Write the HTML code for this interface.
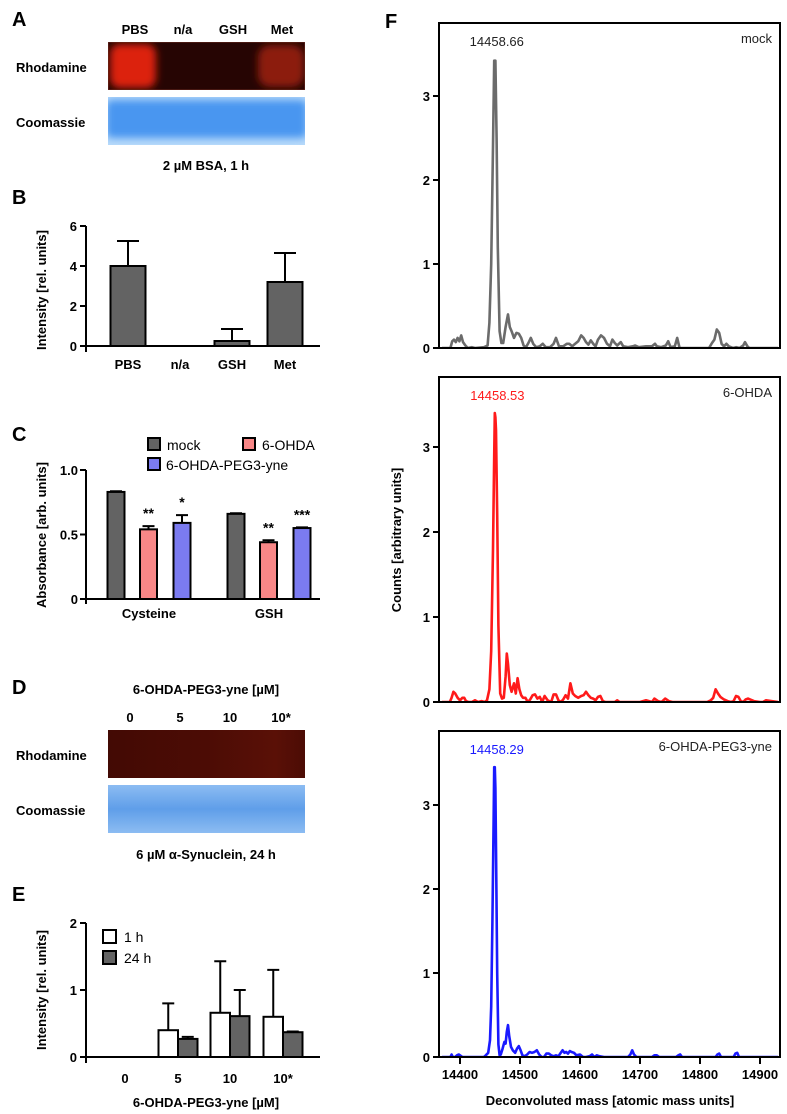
<!DOCTYPE html>
<html><head><meta charset="utf-8"><style>
html,body{margin:0;padding:0;background:#fff;width:787px;height:1114px;overflow:hidden}
svg{display:block;font-family:"Liberation Sans",Arial,sans-serif}
.b{font-weight:bold}
</style></head><body>
<svg id="fig" width="787" height="1114" viewBox="0 0 787 1114">
<defs>
<radialGradient id="rPBS" cx="0.5" cy="0.5" r="0.55"><stop offset="0" stop-color="#ee2a10"/><stop offset="0.6" stop-color="#d01e0c"/><stop offset="1" stop-color="#260503"/></radialGradient>
<radialGradient id="rMet" cx="0.5" cy="0.5" r="0.55"><stop offset="0" stop-color="#a8200e"/><stop offset="0.6" stop-color="#8a180a"/><stop offset="1" stop-color="#260503"/></radialGradient>
<filter id="blur" x="-20%" y="-20%" width="140%" height="140%"><feGaussianBlur stdDeviation="4"/></filter>
<linearGradient id="dC" x1="0" y1="0" x2="0" y2="1"><stop offset="0" stop-color="#8cbcf2"/><stop offset="0.5" stop-color="#5f9ee9"/><stop offset="1" stop-color="#8cbcf2"/></linearGradient>
<linearGradient id="dR" x1="0" y1="0" x2="1" y2="0"><stop offset="0" stop-color="#430a04"/><stop offset="0.5" stop-color="#4c0c05"/><stop offset="0.85" stop-color="#5a1006"/><stop offset="1" stop-color="#4c0c05"/></linearGradient>
<clipPath id="gelAclip"><rect x="108" y="42" width="197" height="48"/></clipPath>
<clipPath id="gelCclip"><rect x="108" y="97" width="197" height="48"/></clipPath>
</defs>

<!-- Panel A -->
<g>
<text class="b" x="12" y="26" font-size="20">A</text>
<g font-size="13" class="b" text-anchor="middle">
<text class="b" x="135" y="34">PBS</text>
<text class="b" x="183" y="34">n/a</text>
<text class="b" x="233" y="34">GSH</text>
<text class="b" x="282" y="34">Met</text>
</g>
<text class="b" x="16" y="72" font-size="13">Rhodamine</text>
<text class="b" x="16" y="127" font-size="13">Coomassie</text>
<g clip-path="url(#gelAclip)">
<rect x="108" y="42" width="197" height="48" fill="#260503"/>
<rect x="110" y="44" width="46" height="44" rx="10" fill="#dc240e" filter="url(#blur)"/>
<rect x="258" y="45" width="46" height="42" rx="12" fill="#8c1a0a" filter="url(#blur)"/>
<rect x="108" y="42" width="197" height="48" fill="none" stroke="#6a2a20" stroke-width="1"/>
</g>
<g clip-path="url(#gelCclip)">
<rect x="108" y="97" width="197" height="48" fill="#b8dafa"/>
<rect x="106" y="100" width="201" height="38" rx="6" fill="#4896f0" filter="url(#blur)"/>
</g>
<text class="b" x="206" y="170" font-size="13" text-anchor="middle">2 µM BSA, 1 h</text>
</g>

<!-- Panel B -->
<g id="panelB">
<text class="b" x="12" y="204" font-size="20">B</text>
<text class="b" font-size="13" text-anchor="middle" transform="translate(46,290) rotate(-90)">Intensity [rel. units]</text>
</g>

<!-- Panel C -->
<g id="panelC">
<text class="b" x="12" y="441" font-size="20">C</text>
<text class="b" font-size="13" text-anchor="middle" transform="translate(46,535) rotate(-90)">Absorbance [arb. units]</text>
<g font-size="14">
<rect x="148" y="438" width="12" height="12" fill="#636363" stroke="#000" stroke-width="2"/>
<text x="167" y="450">mock</text>
<rect x="243" y="438" width="12" height="12" fill="#f88787" stroke="#000" stroke-width="2"/>
<text x="262" y="450">6-OHDA</text>
<rect x="148" y="458" width="12" height="12" fill="#7b7bf0" stroke="#000" stroke-width="2"/>
<text x="166" y="470">6-OHDA-PEG3-yne</text>
</g>
</g>

<!-- Panel D -->
<g>
<text class="b" x="12" y="694" font-size="20">D</text>
<text class="b" x="206" y="694" font-size="13" text-anchor="middle">6-OHDA-PEG3-yne [µM]</text>
<g font-size="13" text-anchor="middle">
<text class="b" x="130" y="722">0</text>
<text class="b" x="180" y="722">5</text>
<text class="b" x="230" y="722">10</text>
<text class="b" x="281" y="722">10*</text>
</g>
<text class="b" x="16" y="760" font-size="13">Rhodamine</text>
<text class="b" x="16" y="815" font-size="13">Coomassie</text>
<rect x="108" y="730" width="197" height="48" fill="url(#dR)"/>
<rect x="108" y="785" width="197" height="48" fill="url(#dC)"/>
<text class="b" x="206" y="859" font-size="13" text-anchor="middle">6 µM α-Synuclein, 24 h</text>
</g>

<!-- Panel E -->
<g id="panelE">
<text class="b" x="12" y="901" font-size="20">E</text>
<text class="b" font-size="13" text-anchor="middle" transform="translate(46,990) rotate(-90)">Intensity [rel. units]</text>
<g font-size="14">
<rect x="103" y="930" width="13" height="13" fill="#fff" stroke="#000" stroke-width="2"/>
<text x="124" y="942">1 h</text>
<rect x="103" y="951" width="13" height="13" fill="#636363" stroke="#000" stroke-width="2"/>
<text x="124" y="963">24 h</text>
</g>
<text class="b" x="206" y="1107" font-size="13" text-anchor="middle">6-OHDA-PEG3-yne [µM]</text>
</g>

<!-- Panel F -->
<g id="panelF">
<text class="b" x="385" y="28" font-size="20">F</text>
<text class="b" font-size="13" text-anchor="middle" transform="translate(401,540) rotate(-90)">Counts [arbitrary units]</text>
<text class="b" x="610" y="1105" font-size="13" text-anchor="middle">Deconvoluted mass [atomic mass units]</text>
</g>
</svg>
<script>
// ---- Panel B data ----
const bCats = ["PBS","n/a","GSH","Met"];
const bVals = [4.0, 0, 0.25, 3.2];
const bErr = [5.25, 0, 0.85, 4.65];
const bTicks = [0,2,4,6];
// ---- Panel C data ----
const cCats = ["Cysteine","GSH"];
const cMock = [0.83, 0.66];
const cOhda = [0.54, 0.44];
const cPeg = [0.59, 0.55];
const cOhdaErr = [0.565, 0.455];
const cPegErr = [0.65, 0.555];
const cMockErr = [0.835, 0.665];
const cStarsOhda = ["**","**"];
const cStarsPeg = ["*","***"];
const cTicks = [0,0.5,1.0];
const cTickLabels = ["0","0.5","1.0"];
// ---- Panel E data ----
const eCats = ["0","5","10","10*"];
const e1h = [0, 0.4, 0.66, 0.6];
const e1hErr = [0, 0.8, 1.43, 1.3];
const e24h = [0, 0.27, 0.61, 0.37];
const e24hErr = [0, 0.3, 1.0, 0.38];
const eTicks = [0,1,2];
// ---- Panel F data ----
const fTicksX = [14400,14500,14600,14700,14800,14900];
const fTicksY = [0,1,2,3];
const mockMass = [14370,14384,14387,14390,14393,14396,14399,14402,14405,14409,14413,14420,14425,14440,14446,14449,14452,14455,14457,14459,14461,14463,14466,14469,14472,14476,14480,14483,14486,14490,14494,14498,14502,14506,14510,14514,14518,14522,14527,14533,14538,14543,14550,14556,14560,14565,14572,14578,14582,14587,14592,14597,14602,14606,14610,14614,14618,14622,14626,14630,14635,14640,14645,14650,14654,14658,14662,14668,14672,14680,14688,14692,14698,14710,14720,14725,14728,14735,14743,14747,14751,14758,14762,14766,14800,14815,14820,14824,14828,14832,14836,14840,14844,14848,14855,14860,14866,14872,14875,14879,14882,14930];
const mockVals = [0,0,0.08,0.1,0.07,0.12,0.08,0.15,0.07,0.03,0,0.01,0,0.01,0.03,0.3,1.0,2.4,3.42,3.42,2.5,1.2,0.2,0.06,0.06,0.25,0.4,0.25,0.2,0.12,0.18,0.17,0.12,0.03,0.01,0.06,0.12,0.05,0.01,0.02,0.05,0.01,0.01,0.05,0.12,0.02,0.02,0.05,0.05,0.02,0.05,0.08,0.15,0.12,0.07,0.04,0.09,0.05,0.02,0.1,0.15,0.12,0.05,0.02,0.1,0.06,0.03,0.07,0.02,0.01,0.02,0.03,0.01,0.02,0.02,0.05,0.02,0.01,0.03,0.08,0.01,0.02,0.12,0,0,0,0.06,0.1,0.22,0.18,0.05,0.02,0.05,0.02,0,0.01,0,0.03,0.07,0.02,0,0];
const ohdaMass = [14370,14383,14386,14389,14392,14396,14400,14404,14407,14410,14414,14420,14425,14430,14436,14441,14445,14449,14452,14455,14457,14458,14459,14460,14462,14464,14467,14470,14473,14476,14478,14480,14483,14486,14490,14493,14496,14499,14502,14505,14509,14513,14517,14521,14525,14529,14533,14537,14541,14546,14552,14556,14560,14564,14568,14572,14576,14580,14584,14588,14592,14597,14602,14606,14610,14614,14618,14622,14626,14630,14634,14638,14642,14646,14650,14654,14658,14662,14666,14680,14700,14710,14720,14724,14730,14736,14742,14748,14754,14760,14800,14812,14818,14822,14826,14830,14834,14840,14846,14852,14856,14860,14864,14868,14872,14876,14880,14890,14900,14905,14910,14930];
const ohdaVals = [0,0,0.05,0.12,0.1,0.05,0.02,0.05,0.05,0.01,0,0,0.02,0,0.01,0,0.02,0.15,0.6,1.8,2.9,3.4,3.35,3.2,2.2,0.9,0.1,0.04,0.05,0.3,0.57,0.45,0.2,0.12,0.22,0.1,0.28,0.15,0.08,0.05,0.05,0,0.03,0.08,0.09,0.04,0.06,0,0.07,0.02,0,0.09,0.09,0.02,0,0.03,0.08,0.04,0.22,0.1,0.07,0.05,0.07,0.08,0.12,0.08,0.05,0.04,0.02,0.06,0.07,0.01,0,0,0,0,0,0.02,0,0,0,0.02,0,0.04,0.01,0,0.04,0.01,0,0,0,0,0.02,0.05,0.15,0.1,0.06,0.03,0.01,0,0.01,0.07,0.06,0.01,0,0.03,0.04,0.01,0,0,0.02,0];
const pegMass = [14370,14384,14386,14388,14392,14395,14398,14400,14404,14440,14443,14447,14450,14452,14454,14456,14457,14458,14459,14460,14462,14464,14466,14468,14471,14474,14476,14478,14480,14482,14485,14488,14492,14495,14498,14501,14504,14508,14512,14516,14520,14524,14528,14532,14536,14540,14544,14548,14552,14556,14560,14564,14568,14571,14574,14577,14580,14583,14586,14590,14594,14600,14605,14610,14616,14620,14624,14628,14632,14640,14680,14684,14687,14690,14694,14720,14724,14728,14732,14760,14764,14767,14770,14826,14829,14832,14835,14856,14859,14862,14865,14930];
const pegVals = [0,0,0.03,0,0,0.02,0.03,0.02,0,0,0.02,0.05,0.2,0.6,1.6,2.8,3.45,3.45,3.2,2.5,1.0,0.15,0.02,0.03,0.1,0.18,0.16,0.3,0.38,0.25,0.12,0.08,0.05,0.1,0.13,0.08,0.02,0.01,0.03,0.06,0.05,0.06,0.08,0.03,0,0,0.04,0.04,0.02,0.01,0.02,0.01,0.05,0.08,0.05,0.06,0.04,0.07,0.06,0.05,0.02,0.03,0,0,0.01,0.03,0,0.02,0.01,0,0,0.03,0.08,0.03,0,0,0.02,0.02,0,0,0.02,0.03,0,0,0.03,0.04,0,0,0.04,0.05,0,0];
const fLabels = ["14458.66","14458.53","14458.29"];
const fPeakMass = [14458, 14459, 14458];
const fNames = ["mock","6-OHDA","6-OHDA-PEG3-yne"];

const NS="http://www.w3.org/2000/svg";
function mk(parent, tag, attrs, text){
  const e=document.createElementNS(NS,tag);
  for(const k in attrs) e.setAttribute(k,attrs[k]);
  if(text!==undefined) e.textContent=text;
  parent.appendChild(e); return e;
}

// ---------- Panel B ----------
(function(){
  const g=document.getElementById('panelB');
  const x0=86,x1=320,y0=346,y6=226;
  const yS=v=>y0-(v/6)*(y0-y6);
  const centers=[128,180,232,285], bw=35;
  bTicks.forEach(t=>{
    const tk=mk(g,'line',{x1:x0-6,x2:x0,y1:yS(t),y2:yS(t),stroke:'#000','stroke-width':2});
    
    
    const tl=mk(g,'text',{x:x0-9,y:yS(t)+5,'text-anchor':'end','font-size':13,'font-weight':'bold'},String(t));
    
    
  });
  bCats.forEach((c,i)=>{
    const cx=centers[i];
    if(bVals[i]>0){
      const eb=mk(g,'path',{d:`M${cx},${yS(bVals[i])}V${yS(bErr[i])}M${cx-11},${yS(bErr[i])}H${cx+11}`,stroke:'#000','stroke-width':2,fill:'none'});
      
      
      const r=mk(g,'rect',{x:cx-bw/2,y:yS(bVals[i]),width:bw,height:y0-yS(bVals[i]),fill:'#636363',stroke:'#000','stroke-width':2});
      
      
    }
    const l=mk(g,'text',{x:cx,y:369,'text-anchor':'middle','font-size':13,'font-weight':'bold'},c);
    
    
  });
  const ax=mk(g,'path',{d:`M${x0},${y6}V${y0+6}M${x0},${y0}H${x1}`,stroke:'#000','stroke-width':2,fill:'none'});
  
  
})();

// ---------- Panel C ----------
(function(){
  const g=document.getElementById('panelC');
  const x0=86,x1=320,y0=599,y1=470;
  const yS=v=>y0-v*(y0-y1);
  const groupX=[116,236], off=[0,32.5,66], bw=17;
  const series=[[cMock,cMockErr,'#636363',null],[cOhda,cOhdaErr,'#f88787',cStarsOhda],[cPeg,cPegErr,'#7b7bf0',cStarsPeg]];
  cTicks.forEach((t,i)=>{
    const tk=mk(g,'line',{x1:x0-6,x2:x0,y1:yS(t),y2:yS(t),stroke:'#000','stroke-width':2});
    
    
    const tl=mk(g,'text',{x:x0-8,y:yS(t)+5,'text-anchor':'end','font-size':13,'font-weight':'bold'},cTickLabels[i]);
    
    
  });
  cCats.forEach((c,gi)=>{
    series.forEach((s,si)=>{
      const cx=groupX[gi]+off[si];
      const v=s[0][gi], e=s[1][gi];
      const eb=mk(g,'path',{d:`M${cx},${yS(v)}V${yS(e)}M${cx-6},${yS(e)}H${cx+6}`,stroke:'#000','stroke-width':2,fill:'none'});
      
      
      const r=mk(g,'rect',{x:cx-bw/2,y:yS(v),width:bw,height:y0-yS(v),fill:s[2],stroke:'#000','stroke-width':2});
      
      
      if(s[3]){
        const st=mk(g,'text',{x:cx,y:yS(e)-8,'text-anchor':'middle','font-size':14,'font-weight':'bold'},s[3][gi]);
        
        
      }
    });
    const l=mk(g,'text',{x:groupX[gi]+33,y:618,'text-anchor':'middle','font-size':13,'font-weight':'bold'},c);
    
    
  });
  const ax=mk(g,'path',{d:`M${x0},${y1}V${y0+5}M${x0},${y0}H${x1}`,stroke:'#000','stroke-width':2,fill:'none'});
  
  
})();

// ---------- Panel E ----------
(function(){
  const g=document.getElementById('panelE');
  const x0=86,x1=320,y0=1057,y2=923;
  const yS=v=>y0-(v/2)*(y0-y2);
  const centers=[125,178,230,283], bw=19.5;
  eTicks.forEach(t=>{
    const tk=mk(g,'line',{x1:x0-6,x2:x0,y1:yS(t),y2:yS(t),stroke:'#000','stroke-width':2});
    
    
    const tl=mk(g,'text',{x:x0-9,y:yS(t)+5,'text-anchor':'end','font-size':13,'font-weight':'bold'},String(t));
    
    
  });
  eCats.forEach((c,i)=>{
    const cx=centers[i];
    [[e1h,e1hErr,'#fff',-bw/2],[e24h,e24hErr,'#636363',bw/2]].forEach((s,si)=>{
      const v=s[0][i], e=s[1][i];
      if(v<=0) return;
      const bx=cx+s[3];
      const eb=mk(g,'path',{d:`M${bx},${yS(v)}V${yS(e)}M${bx-6},${yS(e)}H${bx+6}`,stroke:'#000','stroke-width':2,fill:'none'});
      
      
      const r=mk(g,'rect',{x:bx-bw/2,y:yS(v),width:bw,height:y0-yS(v),fill:s[2],stroke:'#000','stroke-width':2});
      
      
    });
    const l=mk(g,'text',{x:cx,y:1083,'text-anchor':'middle','font-size':13,'font-weight':'bold'},c);
    
    
  });
  const ax=mk(g,'path',{d:`M${x0},${y2}V${y0+6}M${x0},${y0}H${x1}`,stroke:'#000','stroke-width':2,fill:'none'});
  
  
})();

// ---------- Panel F ----------
(function(){
  const g=document.getElementById('panelF');
  const bx0=439,bx1=780;
  const xS=m=>460+(m-14400)*0.6;
  const boxes=[{top:23,zero:348,unit:84},{top:377,zero:702,unit:85},{top:731,zero:1057,unit:84}];
  const data=[[mockMass,mockVals,'#6b6b6b'],[ohdaMass,ohdaVals,'#ff1a1a'],[pegMass,pegVals,'#1a1aff']];
  boxes.forEach((b,i)=>{
    const yS=v=>b.zero-v*b.unit;
    const clip=mk(g,'clipPath',{id:'fc'+i});
    mk(clip,'rect',{x:bx0,y:b.top,width:bx1-bx0,height:b.zero-b.top});
    const m=data[i][0], v=data[i][1];
    let d='';
    m.forEach((mm,k)=>{ d+=(k?'L':'M')+xS(mm).toFixed(1)+','+yS(v[k]).toFixed(1); });
    const p=mk(g,'path',{d:d,fill:'none',stroke:data[i][2],'stroke-width':2.6,'stroke-linejoin':'round','clip-path':`url(#fc${i})`});
    
    
    const box=mk(g,'rect',{x:bx0,y:b.top,width:bx1-bx0,height:b.zero-b.top,fill:'none',stroke:'#000','stroke-width':2});
    
    
    fTicksY.forEach(t=>{
      const tk=mk(g,'line',{x1:bx0-6,x2:bx0,y1:yS(t),y2:yS(t),stroke:'#000','stroke-width':2});
      
      
      const tl=mk(g,'text',{x:bx0-9,y:yS(t)+5,'text-anchor':'end','font-size':13,'font-weight':'bold'},String(t));
      
      
    });
    const pl=mk(g,'text',{x:xS(fPeakMass[i])+2,y:b.top+23,'text-anchor':'middle','font-size':13,fill:i?data[i][2]:'#222'},fLabels[i]);
    
    
    const nl=mk(g,'text',{x:bx1-8,y:b.top+20,'text-anchor':'end','font-size':13,fill:'#222'},fNames[i]);
    
    
  });
  const yb=1058;
  fTicksX.forEach(t=>{
    const tk=mk(g,'line',{x1:xS(t),x2:xS(t),y1:yb,y2:yb+6,stroke:'#000','stroke-width':2});
    
    
    const tl=mk(g,'text',{x:xS(t),y:yb+21,'text-anchor':'middle','font-size':13,'font-weight':'bold'},String(t));
    
    
  });
})();
</script>
</body></html>
